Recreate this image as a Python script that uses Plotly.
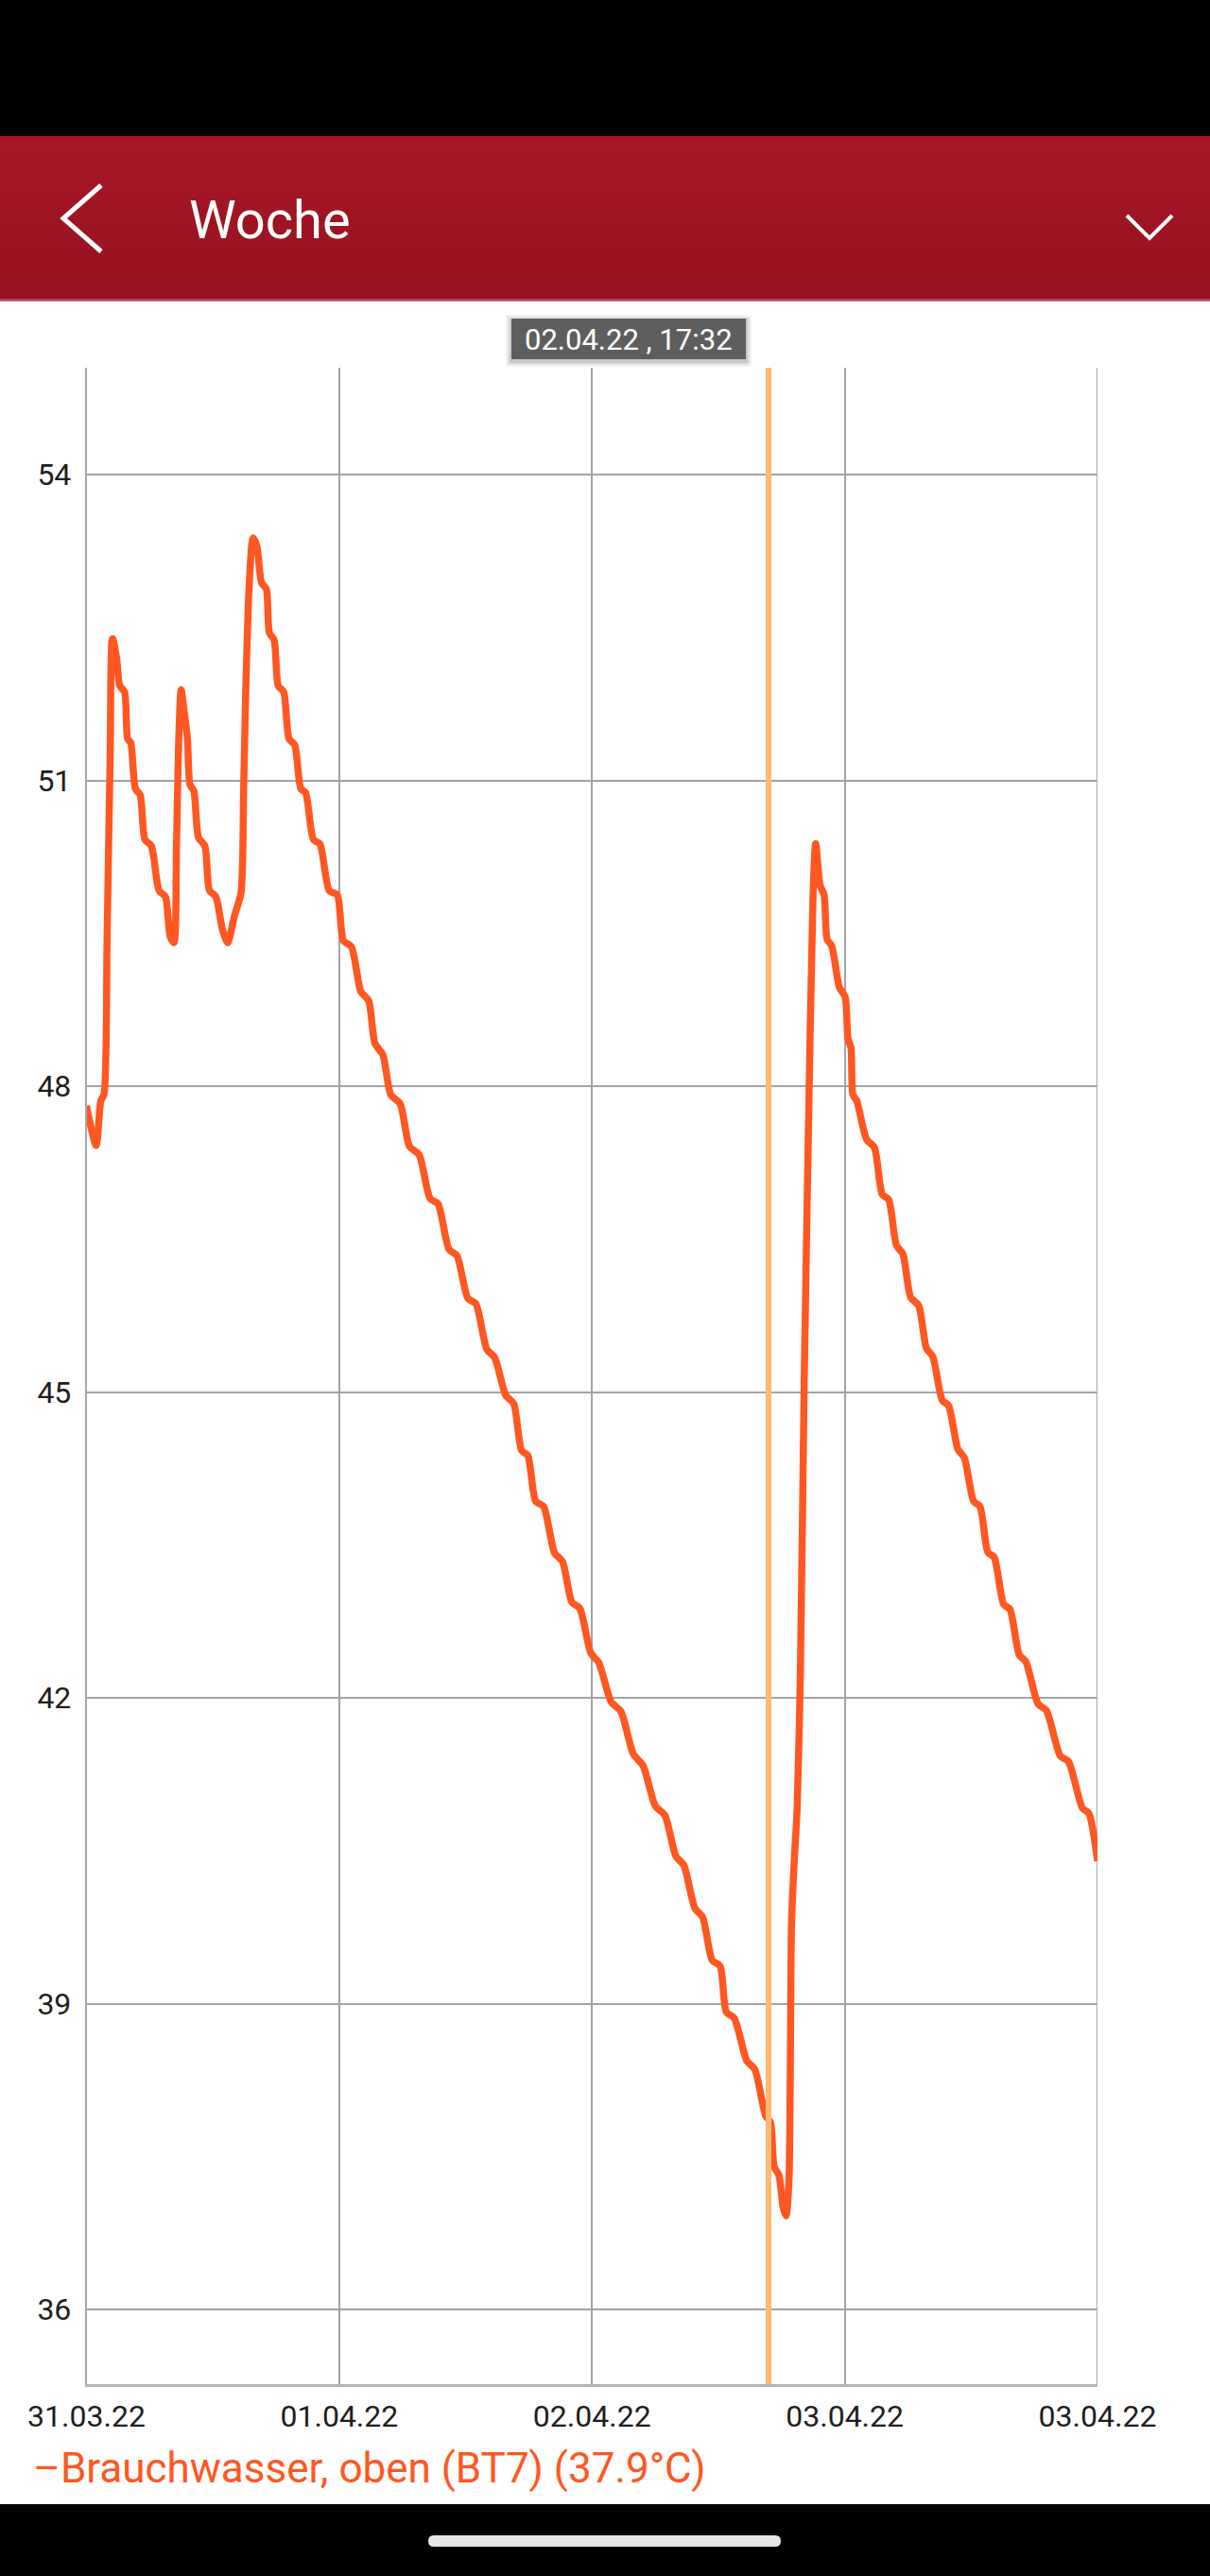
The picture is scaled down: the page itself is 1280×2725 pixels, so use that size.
import plotly.graph_objects as go
import pandas as pd

# ---------------- data ----------------
title_text = "Woche"
start_time = "2022-03-31 06:10"          # left edge of the x range
range_hours = 88                          # width of the visible window
hours = [
    0.00, 0.84, 1.25, 1.52, 1.79, 1.93, 2.07, 2.21, 2.29, 2.62, 2.90, 3.31, 3.58, 3.85,
    4.26, 4.67, 5.09, 5.64, 6.32, 6.87, 7.28, 7.61, 7.83, 8.02, 8.24, 8.52, 8.79, 9.01,
    9.34, 9.75, 10.30, 10.71, 11.26, 11.81, 12.28, 12.90, 13.45, 13.68, 13.86, 14.14,
    14.50, 14.83, 15.24, 15.65, 15.92, 16.33, 16.69, 17.16, 17.63, 18.12, 18.66, 19.07,
    19.76, 20.31, 21.13, 21.82, 22.36, 23.06, 23.88, 24.56, 25.11, 25.80, 26.48, 27.30,
    28.12, 28.95, 29.91, 30.59, 31.56, 32.24, 33.20, 33.88, 34.85, 35.53, 36.49, 37.18,
    37.87, 38.41, 39.10, 39.78, 40.75, 41.43, 42.25, 42.94, 43.90, 44.58, 45.68, 46.51,
    47.60, 48.43, 49.52, 50.34, 51.30, 51.99, 52.95, 53.63, 54.46, 55.15, 55.69, 56.38,
    57.48, 58.16, 59.12, 59.53, 59.86, 60.27, 60.64, 60.89, 61.14, 61.37, 61.59, 61.86,
    62.14, 62.47, 62.82, 63.23, 63.47, 63.86, 64.20, 64.47, 64.86, 65.54, 66.03, 66.28,
    66.54, 66.71, 67.04, 67.90, 68.58, 69.27, 69.82, 70.50, 71.05, 71.74, 72.43, 73.11,
    73.66, 74.49, 75.03, 75.85, 76.40, 77.22, 77.77, 78.46, 79.01, 79.83, 80.38, 81.20,
    81.75, 82.84, 83.54, 84.77, 85.46, 86.69, 87.24, 88.00,
]
temps = [
    47.81, 47.42, 47.86, 47.92, 49.43, 50.40, 51.30, 52.37, 52.39, 52.20, 51.93, 51.87, 51.41, 51.37,
    50.92, 50.86, 50.42, 50.36, 49.92, 49.86, 49.47, 49.41, 50.34, 51.37, 51.89, 51.66, 51.41, 50.96,
    50.90, 50.44, 50.36, 49.92, 49.86, 49.55, 49.41, 49.68, 49.90, 50.92, 51.87, 52.86,
    53.38, 53.30, 52.94, 52.88, 52.45, 52.38, 51.93, 51.87, 51.41, 51.35, 50.92, 50.88,
    50.42, 50.38, 49.92, 49.88, 49.43, 49.37, 48.93, 48.84, 48.42, 48.31, 47.92, 47.83,
    47.41, 47.33, 46.90, 46.85, 46.40, 46.34, 45.92, 45.87, 45.42, 45.34, 44.97, 44.89,
    44.43, 44.38, 43.93, 43.88, 43.42, 43.34, 42.94, 42.88, 42.44, 42.35, 41.96, 41.87,
    41.45, 41.34, 40.94, 40.85, 40.45, 40.36, 39.94, 39.85, 39.43, 39.37, 38.92, 38.86,
    38.44, 38.36, 37.90, 37.84, 37.40, 37.32, 37.00, 36.92, 37.25, 39.80, 40.37, 40.93,
    42.26, 45.10, 47.46, 49.83, 50.38, 49.97, 49.88, 49.44, 49.38, 48.97, 48.88, 48.47,
    48.38, 47.92, 47.86, 47.48, 47.40, 46.94, 46.89, 46.44, 46.36, 45.93, 45.85, 45.43,
    45.35, 44.92, 44.87, 44.44, 44.36, 43.93, 43.88, 43.43, 43.38, 42.92, 42.87, 42.42,
    42.36, 41.94, 41.88, 41.43, 41.38, 40.92, 40.87, 40.40,
]
tick_hours = [0, 22, 44, 66, 88]
tick_labels = ["31.03.22", "01.04.22", "02.04.22", "03.04.22", "03.04.22"]
y_ticks = [36, 39, 42, 45, 48, 51, 54]
y_range = [35.27, 55.05]
selected_time = "2022-04-02 17:32"
selected_label = "02.04.22 , 17:32"
series_name = "Brauchwasser, oben (BT7)"
current_value = 37.9

# ---------------- page geometry helpers (pixels -> paper) ----------------
W, H = 1280, 2725
PL, PR, PT, PB = 91.5, 1161, 389, 2522


def px(x):
    return x / W


def py(y):
    return 1 - y / H


t0 = pd.Timestamp(start_time)
times = [t0 + pd.Timedelta(hours=h) for h in hours]
tickvals = [t0 + pd.Timedelta(hours=h) for h in tick_hours]
t_end = t0 + pd.Timedelta(hours=range_hours)

LINE_COLOR = "#FF5722"
GRID = "#A3A3A3"
FONT = "Roboto"

fig = go.Figure()
fig.add_trace(go.Scatter(
    x=times, y=temps, mode="lines", name=series_name,
    line=dict(color=LINE_COLOR, width=7.5, shape="spline", smoothing=0.7),
    hoverinfo="skip", showlegend=False,
))

shapes = []
# status bar
shapes.append(dict(type="rect", xref="paper", yref="paper", x0=0, x1=1, y0=py(144), y1=py(0),
                   fillcolor="#000000", line=dict(width=0), layer="above"))
# red header with gentle gradient (stripes)
top_c = (168, 23, 39)
bot_c = (150, 18, 32)
n = 12
for i in range(n):
    f = i / (n - 1)
    c = tuple(int(round(top_c[k] + (bot_c[k] - top_c[k]) * f)) for k in range(3))
    y0 = 144 + (318 - 144) * i / n
    y1 = 144 + (318 - 144) * (i + 1) / n
    shapes.append(dict(type="rect", xref="paper", yref="paper", x0=0, x1=1,
                       y0=py(y1 + 0.5), y1=py(y0),
                       fillcolor="rgb(%d,%d,%d)" % c, line=dict(width=0), layer="above"))
shapes.append(dict(type="line", xref="paper", yref="paper", x0=0, x1=1, y0=py(317), y1=py(317),
                   line=dict(color="#B3404B", width=2), layer="above"))
# back arrow
shapes.append(dict(type="path", xref="paper", yref="paper",
                   path="M %f %f L %f %f L %f %f" % (px(107), py(196), px(67), py(231), px(107), py(266)),
                   line=dict(color="white", width=5), layer="above"))
# chevron
shapes.append(dict(type="path", xref="paper", yref="paper",
                   path="M %f %f L %f %f L %f %f" % (px(1192), py(228), px(1216), py(252), px(1240), py(228)),
                   line=dict(color="white", width=4), layer="above"))
# tooltip box (with soft shadow)
for k, a in [(6, 0.05), (4, 0.07), (2, 0.10)]:
    shapes.append(dict(type="rect", xref="paper", yref="paper",
                       x0=px(541 - k), x1=px(789 + k), y0=py(380 + k + 2), y1=py(337 - k + 2),
                       fillcolor="rgba(0,0,0,%f)" % a, line=dict(width=0), layer="above"))
shapes.append(dict(type="rect", xref="paper", yref="paper", x0=px(541), x1=px(789), y0=py(380), y1=py(337),
                   fillcolor="#5E5E5E", line=dict(width=0), layer="above"))
# selected time highlight
shapes.append(dict(type="line", xref="x", yref="y domain", x0=pd.Timestamp(selected_time),
                   x1=pd.Timestamp(selected_time), y0=0, y1=1,
                   line=dict(color="#FFBA72", width=6), layer="above"))
# right frame line (last grid line)
shapes.append(dict(type="line", xref="x", yref="y domain", x0=t_end, x1=t_end, y0=0, y1=1,
                   line=dict(color="#B5B5B5", width=2.5), layer="below"))
# navigation bar
shapes.append(dict(type="rect", xref="paper", yref="paper", x0=0, x1=1, y0=0, y1=py(2649),
                   fillcolor="#000000", line=dict(width=0), layer="above"))
r = 6
pill = ("M %f %f L %f %f Q %f %f %f %f Q %f %f %f %f L %f %f Q %f %f %f %f Q %f %f %f %f Z" % (
    px(453 + r), py(2682), px(826 - r), py(2682),
    px(826), py(2682), px(826), py(2688),
    px(826), py(2694), px(826 - r), py(2694),
    px(453 + r), py(2694),
    px(453), py(2694), px(453), py(2688),
    px(453), py(2682), px(453 + r), py(2682)))
shapes.append(dict(type="path", xref="paper", yref="paper", path=pill,
                   fillcolor="#E6E6E6", line=dict(width=0), layer="above"))

annotations = [
    dict(text=title_text, x=px(198), y=py(233), xref="paper", yref="paper",
         xanchor="left", yanchor="middle", showarrow=False,
         font=dict(family=FONT, size=56, color="white")),
    dict(text=selected_label, x=px(665), y=py(359), xref="paper", yref="paper",
         xanchor="center", yanchor="middle", showarrow=False,
         font=dict(family=FONT, size=31, color="white")),
    dict(text="\u2013%s (%s\u00b0C)" % (series_name, current_value), x=px(33), y=py(2611),
         xref="paper", yref="paper", xanchor="left", yanchor="middle", showarrow=False,
         font=dict(family=FONT, size=44, color=LINE_COLOR)),
]

fig.update_layout(
    width=W, height=H,
    margin=dict(l=0, r=0, t=0, b=0),
    paper_bgcolor="white", plot_bgcolor="white",
    showlegend=False,
    shapes=shapes,
    annotations=annotations,
    xaxis=dict(
        domain=[px(PL), px(PR)], range=[t0, t_end], type="date",
        tickmode="array", tickvals=tickvals, ticktext=tick_labels,
        showgrid=True, gridcolor=GRID, gridwidth=1.5,
        showline=True, linecolor="#B5B5B5", linewidth=2.5,
        ticks="", ticklabelstandoff=4, automargin=False,
        tickfont=dict(family=FONT, size=32, color="#1E1E1E"),
        zeroline=False, fixedrange=True,
    ),
    yaxis=dict(
        domain=[py(PB), py(PT)], range=y_range,
        tickmode="array", tickvals=y_ticks, ticktext=[str(v) for v in y_ticks],
        showgrid=True, gridcolor=GRID, gridwidth=1.5,
        showline=True, linecolor="#A8A8A8", linewidth=1.5,
        ticks="", ticklabelstandoff=8, automargin=False,
        tickfont=dict(family=FONT, size=32, color="#1E1E1E"),
        zeroline=False, fixedrange=True,
    ),
)

fig.write_html(
    "out.html",
    config={"displayModeBar": False},
    post_script="document.body.style.margin='0';document.body.style.padding='0';"
                "document.body.style.overflow='hidden';",
)
